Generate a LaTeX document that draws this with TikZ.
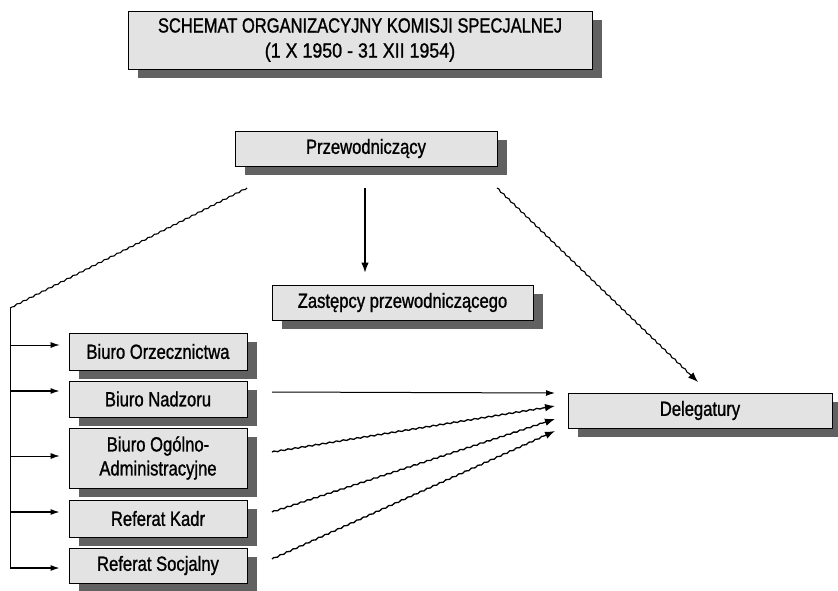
\documentclass[tikz,border=0pt]{standalone}
\usepackage{fontspec}
\setmainfont{Liberation Sans}[FakeStretch=0.81, FakeBold=1.1]
\newfontfamily\titlefont{Liberation Sans}[FakeStretch=0.805, FakeBold=1.1]
\newfontfamily\datefont{Liberation Sans}[FakeStretch=0.87, FakeBold=1.1]
\usetikzlibrary{shadows,arrows.meta,decorations.pathmorphing,calc}
\begin{document}
\begin{tikzpicture}[x=1pt,y=-1pt,
  box/.style={draw=black, line width=0.9pt, fill=black!11, rectangle, inner sep=0pt,
    align=center, font=\fontsize{20.5}{24}\selectfont,
    drop shadow={shadow xshift=10pt, shadow yshift=-9pt, fill=black!62, opacity=1}},
  thinarr/.style={line width=0.8pt, -{Latex[length=9pt,width=6pt]}},
  thickarr/.style={line width=1.3pt, -{Latex[length=10pt,width=7.5pt]}},
  wavy/.style={decorate, decoration={snake, amplitude=0.6pt, segment length=7pt, post length=12pt}}
]
\useasboundingbox (0,0) rectangle (838,590);

\node[box, minimum width=464pt, minimum height=58pt, font=\fontsize{20.5}{25}\selectfont] (title) at (360,40)
  {{\titlefont SCHEMAT ORGANIZACYJNY KOMISJI SPECJALNEJ}\\{\datefont (1 X 1950 - 31 XII 1954)}};

\node[box, minimum width=262pt, minimum height=35pt] (prze) at (366,148.5) {Przewodniczący};
\node[box, minimum width=261pt, minimum height=35pt] (zast) at (402.5,302.5) {Zastępcy przewodniczącego};

\node[box, minimum width=178pt, minimum height=37pt] (orz) at (158,351.5) {Biuro Orzecznictwa};
\node[box, minimum width=178pt, minimum height=36pt] (nadz) at (158,399) {Biuro Nadzoru};
\node[box, minimum width=178pt, minimum height=60pt] (ogol) at (158,458) {Biuro Ogólno-\\Administracyjne};
\node[box, minimum width=178pt, minimum height=37pt] (kadr) at (158,518.5) {Referat Kadr};
\node[box, minimum width=178pt, minimum height=35pt] (socj) at (158,565.5) {Referat Socjalny};

\node[box, minimum width=264pt, minimum height=35pt] (deleg) at (700,410.5) {Delegatury};

% Przewodniczacy -> Zastepcy
\coordinate (d0) at (365,188);
\draw[thickarr, line width=1.1pt, shorten >=12pt] (d0) -- (d0 |- zast.north);

% left spine
\coordinate (l0) at (247,188);
\coordinate (l1) at (10,308);
\coordinate (l2) at (10,568);
\draw[line width=1.1pt, wavy, decoration={post length=0pt}] (l0) -- (l1);
\draw[line width=0.9pt] (l1) -- (l2);
\coordinate (s1) at (10,345);
\coordinate (s2) at (10,391);
\coordinate (s3) at (10,456);
\coordinate (s4) at (10,512);
\coordinate (s5) at (10,568);
\draw[thinarr, shorten >=9pt] (s1) -- (s1 -| orz.west);
\draw[thinarr, line width=1.1pt, shorten >=9pt] (s2) -- (s2 -| nadz.west);
\draw[thinarr, shorten >=9pt] (s3) -- (s3 -| ogol.west);
\draw[thinarr, line width=1.1pt, shorten >=9pt] (s4) -- (s4 -| kadr.west);
\draw[thinarr, line width=1.1pt, shorten >=9pt] (s5) -- (s5 -| socj.west);

% Przewodniczacy -> Delegatury
\coordinate (r0) at (497,188);
\coordinate (r1) at (698,382);
\draw[thickarr, line width=1.1pt, wavy] (r0) -- (r1);

% boxes -> Delegatury
\coordinate (n0) at (272,392);
\coordinate (n1) at (555,393);
\coordinate (o0) at (272,452);
\coordinate (o1) at (555,406);
\coordinate (k0) at (272,512);
\coordinate (k1) at (555,419);
\coordinate (c0) at (272,559);
\coordinate (c1) at (555,431);
\draw[thinarr, line width=1pt] (n0) -- (n1);
\draw[thickarr, wavy] (o0) -- (o1);
\draw[thickarr, wavy] (k0) -- (k1);
\draw[thickarr, wavy] (c0) -- (c1);
\end{tikzpicture}
\end{document}
